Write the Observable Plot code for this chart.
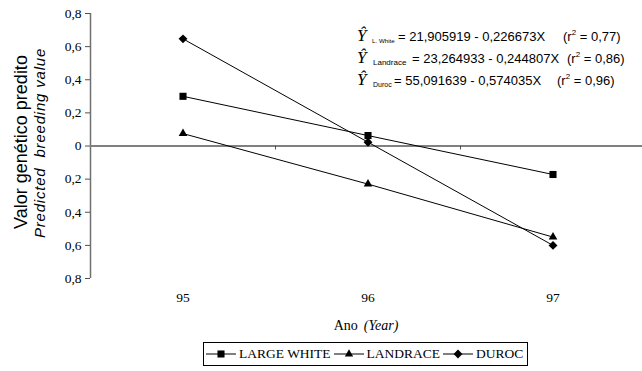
<!DOCTYPE html>
<html><head><meta charset="utf-8">
<script src="https://cdn.jsdelivr.net/npm/d3@7"></script>
<script src="https://cdn.jsdelivr.net/npm/@observablehq/plot@0.6"></script>
<style>
body{margin:0;background:#fff;}
#chart svg{display:block;}
#legend{margin-left:203px;margin-top:4px;height:24px;border:1px solid #000;box-shadow:0 2px 0 #808080;display:inline-flex;align-items:center;font-family:'Liberation Serif','Times New Roman',serif;font-size:13.5px;color:#000;box-sizing:border-box;padding-left:2px;padding-right:1px;white-space:nowrap;}
#legend .item{display:flex;align-items:center;margin-right:3px;}
#legend svg{display:block;margin-right:3px;}
</style></head><body>
<div id="chart"></div>
<div id="legend"></div>
<script>
const years = [95, 96, 97];
const series = ["LARGE WHITE", "LANDRACE", "DUROC"];
const largeWhite = [0.30, 0.063, -0.172];
const landrace = [0.075, -0.23, -0.55];
const duroc = [0.647, 0.023, -0.60];
const symbols = ["square", "triangle", "diamond2"];
const yTicks = [-0.8, -0.6, -0.4, -0.2, 0, 0.2, 0.4, 0.6, 0.8];
const xBoundaries = [95.5, 96.5];
const yLabel = ["Valor genético predito", "Predicted  breeding value"];
const xLabel = ["Ano", "(Year)"];
const eqSubs = ["L. White", "Landrace", "Duroc"];
const eqBodies = ["= 21,905919 - 0,226673X", "= 23,264933 - 0,244807X", "= 55,091639 - 0,574035X"];
const eqR2 = ["0,77", "0,86", "0,96"];

const valuesBySeries = [largeWhite, landrace, duroc];
const data = series.flatMap((s, i) => years.map((yr, j) => ({series: s, year: yr, value: valuesBySeries[i][j]})));
const dotR = [4, 3.2, 4];

const serif = "'Liberation Serif','Times New Roman',serif";
const sans = "'Liberation Sans',Arial,sans-serif";

const fmt = d => d === 0 ? "0" : Math.abs(d).toFixed(1).replace(".", ",");

const plot = Plot.plot({
  width: 642,
  height: 338,
  marginLeft: 90,
  marginRight: 0,
  marginTop: 13,
  marginBottom: 60,
  style: {fontFamily: serif, fontSize: "13.5px", color: "#000", background: "#fff"},
  x: {domain: [94.5, 97.5], range: [90, 645], axis: null},
  y: {domain: [-0.8, 0.8], axis: null},
  marks: [
    Plot.ruleX([94.5], {stroke: "#707070", strokeWidth: 1.5}),
    Plot.axisY({ticks: yTicks, label: null, tickSize: 5, tickPadding: 4, tickFormat: fmt, stroke: "#505050", fill: "#000", fontSize: 13.5, fontFamily: serif}),
    Plot.axisX({ticks: years, label: null, tickSize: 0, tickPadding: 14, tickFormat: d => String(d), fill: "#000", fontSize: 13.5, fontFamily: serif}),
    Plot.ruleY([0], {stroke: "#808080", strokeWidth: 2}),
    Plot.ruleX(xBoundaries, {x: d => d, y1: d => 0, y2: d => -0.024, stroke: "#505050", strokeWidth: 1}),
    Plot.line(data, {x: "year", y: "value", z: "series", stroke: "#000", strokeWidth: 1}),
    ...series.map((s, i) => Plot.dot(data.filter(d => d.series === s), {x: "year", y: "value", symbol: symbols[i], r: dotR[i], fill: "#000", stroke: "none"}))
  ]
});
document.getElementById("chart").appendChild(plot);

const svg = d3.select(plot);
// y label
svg.append("text").attr("transform", "translate(27,142) rotate(-90)").attr("text-anchor", "middle")
  .style("font-family", sans).style("font-size", "18px").attr("fill", "#000").text(yLabel[0]);
svg.append("text").attr("transform", "translate(45,143) rotate(-90)").attr("text-anchor", "middle")
  .attr("xml:space", "preserve")
  .style("font-family", sans).style("font-size", "15px").style("font-style", "italic").style("letter-spacing", "0.8px")
  .attr("fill", "#000").text(yLabel[1]);
// x label
const xl = svg.append("text").attr("x", 366).attr("y", 330).attr("text-anchor", "middle")
  .style("font-family", serif).style("font-size", "14px").attr("fill", "#000");
xl.append("tspan").text(xLabel[0]);
xl.append("tspan").attr("dx", 6).style("font-style", "italic").text(xLabel[1]);

// equations
const subX = [372, 373, 373];
const subSize = [6.2, 8, 7];
const bodyX = [398, 412, 394];
const r2X = [563, 567, 557];
const baseY = [41, 63, 85];
eqSubs.forEach((sub, i) => {
  svg.append("text").attr("x", 357).attr("y", baseY[i]).attr("text-anchor", "start").style("font-family", serif).style("font-style", "italic")
    .style("font-size", "17px").attr("fill", "#000").text("Ŷ");
  svg.append("text").attr("x", subX[i]).attr("y", baseY[i] + 2).attr("text-anchor", "start").style("font-family", sans)
    .style("font-size", subSize[i] + "px").attr("fill", "#000").text(sub);
  svg.append("text").attr("x", bodyX[i]).attr("y", baseY[i]).attr("text-anchor", "start").style("font-family", sans)
    .style("font-size", "13px").attr("fill", "#000").text(eqBodies[i]);
  const t = svg.append("text").attr("x", r2X[i]).attr("y", baseY[i]).attr("text-anchor", "start").style("font-family", sans)
    .style("font-size", "13px").attr("fill", "#000");
  t.append("tspan").text("(r");
  t.append("tspan").attr("dy", -6).style("font-size", "8px").text("2");
  t.append("tspan").attr("dy", 6).text(" = " + eqR2[i] + ")");
});

// legend
const symbolFns = [d3.symbolSquare, d3.symbolTriangle, d3.symbolDiamond2];
const symbolSizes = [50, 30, 50];
const legend = d3.select("#legend");
series.forEach((s, i) => {
  const item = legend.append("div").attr("class", "item");
  const ic = item.append("svg").attr("width", 30).attr("height", 12);
  ic.append("line").attr("x1", 0).attr("x2", 30).attr("y1", 6).attr("y2", 6).attr("stroke", "#000").attr("stroke-width", 1);
  ic.append("path").attr("transform", "translate(15,6)").attr("d", d3.symbol(symbolFns[i], symbolSizes[i])()).attr("fill", "#000");
  item.append("span").style("font-family", serif).text(s);
});
</script>
</body></html>
